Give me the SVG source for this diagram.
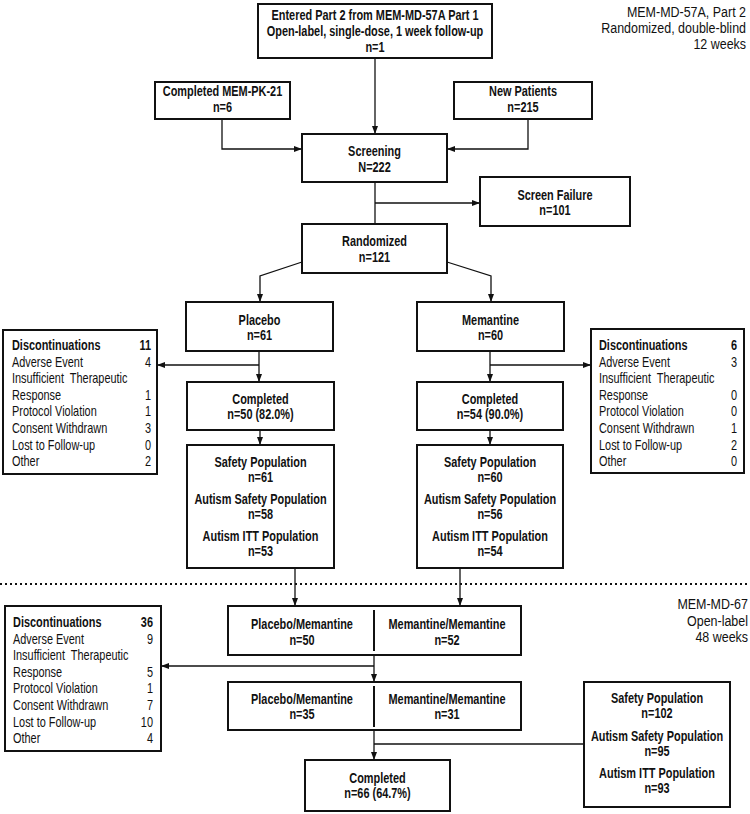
<svg xmlns="http://www.w3.org/2000/svg" width="750" height="814" viewBox="0 0 750 814">
<defs>
<marker id="ah" markerUnits="userSpaceOnUse" markerWidth="8" markerHeight="8" viewBox="0 0 8 8" refX="8" refY="4" orient="auto">
<path d="M0,1 L8,4 L0,7 Z" fill="#111"/>
</marker>
<style>
.box{fill:#fff;stroke:#111;stroke-width:2}
.c{fill:none;stroke:#111;stroke-width:1.3}
.ca{fill:none;stroke:#111;stroke-width:1.3;marker-end:url(#ah)}
text{font-family:"Liberation Sans",Arial,sans-serif;font-size:14px;fill:#111;transform-box:fill-box;transform:scaleX(0.78);transform-origin:left center}
.b{font-weight:bold;text-anchor:middle;transform-origin:center}
.r{text-anchor:end;transform-origin:right center}
.bb{font-weight:bold}
.lab{transform:scaleX(0.89)}
</style>
</defs>
<rect width="750" height="814" fill="#fff"/>

<g id="connectors">
<line class="ca" x1="375" y1="58" x2="375" y2="134"/>
<polyline class="ca" points="222,119 222,149 302,149"/>
<polyline class="ca" points="528,119 528,149 447,149"/>
<line class="c" x1="375" y1="182" x2="375" y2="224"/>
<line class="ca" x1="375" y1="203" x2="480" y2="203"/>
<polyline class="ca" points="302,262 260,276 260,302"/>
<polyline class="ca" points="447,262 491,276 491,302"/>
<line class="ca" x1="259" y1="351" x2="259" y2="382"/>
<line class="ca" x1="259" y1="365" x2="157" y2="365"/>
<line class="ca" x1="490" y1="351" x2="490" y2="382"/>
<line class="ca" x1="490" y1="365" x2="591" y2="365"/>
<line class="ca" x1="260" y1="430" x2="260" y2="445"/>
<line class="ca" x1="490" y1="430" x2="490" y2="445"/>
<line class="ca" x1="295" y1="568" x2="295" y2="606"/>
<line class="ca" x1="460" y1="568" x2="460" y2="606"/>
<line class="ca" x1="374" y1="655" x2="374" y2="682"/>
<line class="ca" x1="374" y1="666" x2="161" y2="666"/>
<line class="ca" x1="374" y1="730" x2="374" y2="760"/>
<line class="c" x1="374" y1="744" x2="584" y2="744"/>
<line x1="0" y1="584" x2="750" y2="584" stroke="#111" stroke-width="2" stroke-dasharray="2 3"/>
</g>

<g id="label-part2">
<text class="r lab" x="746" y="17">MEM-MD-57A, Part 2</text>
<text class="r lab" x="746" y="33">Randomized, double-blind</text>
<text class="r lab" x="746" y="49">12 weeks</text>
</g>
<g id="label-md67">
<text class="r lab" x="748" y="609">MEM-MD-67</text>
<text class="r lab" x="748" y="626">Open-label</text>
<text class="r lab" x="748" y="642">48 weeks</text>
</g>

<g id="entered">
<rect class="box" x="258" y="4" width="234" height="54"/>
<text class="b" x="375" y="20">Entered Part 2 from MEM-MD-57A Part 1</text>
<text class="b" x="375" y="36">Open-label, single-dose, 1 week follow-up</text>
<text class="b" x="375" y="52">n=1</text>
</g>
<g id="pk21">
<rect class="box" x="155" y="82" width="135" height="37"/>
<text class="b" x="222.5" y="96">Completed MEM-PK-21</text>
<text class="b" x="222.5" y="112">n=6</text>
</g>
<g id="newpatients">
<rect class="box" x="454" y="82" width="138" height="37"/>
<text class="b" x="523" y="96">New Patients</text>
<text class="b" x="523" y="112">n=215</text>
</g>
<g id="screening">
<rect class="box" x="302" y="134" width="145" height="48"/>
<text class="b" x="374.5" y="156">Screening</text>
<text class="b" x="374.5" y="172">N=222</text>
</g>
<g id="screenfailure">
<rect class="box" x="480" y="177" width="150" height="49"/>
<text class="b" x="555" y="200">Screen Failure</text>
<text class="b" x="555" y="215">n=101</text>
</g>
<g id="randomized">
<rect class="box" x="302" y="224" width="145" height="49"/>
<text class="b" x="374.5" y="246">Randomized</text>
<text class="b" x="374.5" y="262">n=121</text>
</g>
<g id="placebo">
<rect class="box" x="186" y="302" width="147" height="49"/>
<text class="b" x="259.5" y="325">Placebo</text>
<text class="b" x="259.5" y="340">n=61</text>
</g>
<g id="memantine">
<rect class="box" x="417" y="302" width="147" height="49"/>
<text class="b" x="490.5" y="325">Memantine</text>
<text class="b" x="490.5" y="340">n=60</text>
</g>
<g id="completed-placebo">
<rect class="box" x="187" y="382" width="147" height="48"/>
<text class="b" x="260.5" y="404">Completed</text>
<text class="b" x="260.5" y="419">n=50 (82.0%)</text>
</g>
<g id="completed-memantine">
<rect class="box" x="417" y="382" width="146" height="48"/>
<text class="b" x="490" y="404">Completed</text>
<text class="b" x="490" y="419">n=54 (90.0%)</text>
</g>
<g id="pop-placebo">
<rect class="box" x="187" y="445" width="147" height="123"/>
<text class="b" x="260.5" y="467">Safety Population</text>
<text class="b" x="260.5" y="482">n=61</text>
<text class="b" x="260.5" y="504">Autism Safety Population</text>
<text class="b" x="260.5" y="519">n=58</text>
<text class="b" x="260.5" y="541">Autism ITT Population</text>
<text class="b" x="260.5" y="556">n=53</text>
</g>
<g id="pop-memantine">
<rect class="box" x="417" y="445" width="146" height="123"/>
<text class="b" x="490" y="467">Safety Population</text>
<text class="b" x="490" y="482">n=60</text>
<text class="b" x="490" y="504">Autism Safety Population</text>
<text class="b" x="490" y="519">n=56</text>
<text class="b" x="490" y="541">Autism ITT Population</text>
<text class="b" x="490" y="556">n=54</text>
</g>
<g id="disc-placebo">
<rect class="box" x="3" y="330" width="154" height="144"/>
<text class="bb" x="12" y="350">Discontinuations</text><text class="r bb" x="151" y="350">11</text>
<text x="12" y="367">Adverse Event</text><text class="r" x="151" y="367">4</text>
<text x="12" y="383" xml:space="preserve">Insufficient  Therapeutic</text>
<text x="12" y="400">Response</text><text class="r" x="151" y="400">1</text>
<text x="12" y="416">Protocol Violation</text><text class="r" x="151" y="416">1</text>
<text x="12" y="433">Consent Withdrawn</text><text class="r" x="151" y="433">3</text>
<text x="12" y="450">Lost to Follow-up</text><text class="r" x="151" y="450">0</text>
<text x="12" y="466">Other</text><text class="r" x="151" y="466">2</text>
</g>
<g id="disc-memantine">
<rect class="box" x="591" y="329" width="153" height="144"/>
<text class="bb" x="599" y="350">Discontinuations</text><text class="r bb" x="737" y="350">6</text>
<text x="599" y="367">Adverse Event</text><text class="r" x="737" y="367">3</text>
<text x="599" y="383" xml:space="preserve">Insufficient  Therapeutic</text>
<text x="599" y="400">Response</text><text class="r" x="737" y="400">0</text>
<text x="599" y="416">Protocol Violation</text><text class="r" x="737" y="416">0</text>
<text x="599" y="433">Consent Withdrawn</text><text class="r" x="737" y="433">1</text>
<text x="599" y="450">Lost to Follow-up</text><text class="r" x="737" y="450">2</text>
<text x="599" y="466">Other</text><text class="r" x="737" y="466">0</text>
</g>
<g id="ol-start">
<rect class="box" x="228" y="606" width="293" height="49"/>
<line x1="374" y1="610" x2="374" y2="651" stroke="#111" stroke-width="2"/>
<text class="b" x="302" y="629">Placebo/Memantine</text>
<text class="b" x="302" y="645">n=50</text>
<text class="b" x="447" y="629">Memantine/Memantine</text>
<text class="b" x="447" y="645">n=52</text>
</g>
<g id="ol-end">
<rect class="box" x="228" y="682" width="293" height="48"/>
<line x1="374" y1="686" x2="374" y2="727" stroke="#111" stroke-width="2"/>
<text class="b" x="302" y="704">Placebo/Memantine</text>
<text class="b" x="302" y="719">n=35</text>
<text class="b" x="447" y="704">Memantine/Memantine</text>
<text class="b" x="447" y="719">n=31</text>
</g>
<g id="disc-ol">
<rect class="box" x="5" y="606" width="156" height="145"/>
<text class="bb" x="13" y="627">Discontinuations</text><text class="r bb" x="153" y="627">36</text>
<text x="13" y="644">Adverse Event</text><text class="r" x="153" y="644">9</text>
<text x="13" y="660" xml:space="preserve">Insufficient  Therapeutic</text>
<text x="13" y="677">Response</text><text class="r" x="153" y="677">5</text>
<text x="13" y="693">Protocol Violation</text><text class="r" x="153" y="693">1</text>
<text x="13" y="710">Consent Withdrawn</text><text class="r" x="153" y="710">7</text>
<text x="13" y="727">Lost to Follow-up</text><text class="r" x="153" y="727">10</text>
<text x="13" y="743">Other</text><text class="r" x="153" y="743">4</text>
</g>
<g id="completed-ol">
<rect class="box" x="305" y="760" width="145" height="51"/>
<text class="b" x="377.5" y="783">Completed</text>
<text class="b" x="377.5" y="798">n=66 (64.7%)</text>
</g>
<g id="pop-ol">
<rect class="box" x="584" y="682" width="146" height="125"/>
<text class="b" x="657" y="703">Safety Population</text>
<text class="b" x="657" y="718">n=102</text>
<text class="b" x="657" y="741">Autism Safety Population</text>
<text class="b" x="657" y="756">n=95</text>
<text class="b" x="657" y="778">Autism ITT Population</text>
<text class="b" x="657" y="793">n=93</text>
</g>
</svg>
